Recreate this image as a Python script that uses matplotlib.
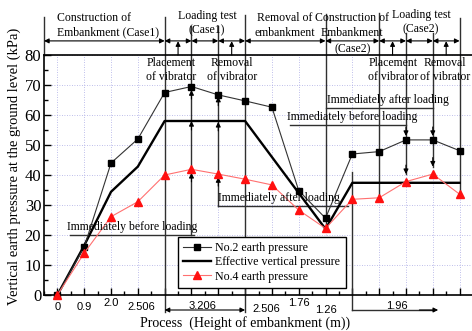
import matplotlib
matplotlib.use("Agg")
import matplotlib.pyplot as plt
from matplotlib.ticker import MultipleLocator

# ---------------- data ----------------
steps = list(range(16))
no2 = [0, 16, 44, 52, 67.5, 69.5, 66.7, 64.7, 62.6, 34.8, 25.6, 47, 47.8, 51.7, 51.7, 48.1]
eff = [0, 16.5, 34.4, 42.8, 58, 58, 58, 58, 46, 34, 22, 37.4, 37.4, 37.4, 37.4, 37.4]
no4 = [0, 14, 26.1, 31.1, 40, 41.9, 40.3, 38.6, 36.7, 28.3, 22.2, 31.9, 32.4, 37.8, 40.3, 33.6]
height_labels = ['0', '0.9', '2.0', '2.506', '3.206', '2.506', '1.76', '1.26', '1.96']
yticks = [0, 10, 20, 30, 40, 50, 60, 70, 80]

SERIF = 'Liberation Serif'
SANS = 'Liberation Sans'
LC = '#303030'
AF = 8.5  # annotation font size

fig = plt.figure(figsize=(4.72, 3.31), dpi=100)
ax = fig.add_axes([44/472, 36/331, 429/472, 240/331])
ax.set_xlim(-0.5, 15.5)
ax.set_ylim(0, 80)

# grid
ax.set_xticks(steps)
ax.xaxis.set_minor_locator(MultipleLocator(0.5))
ax.set_yticks(yticks)
ax.yaxis.set_minor_locator(MultipleLocator(5))
ax.grid(True, which='major', color='#a8a8e4', lw=0.6, ls=(0, (1, 2)))
ax.set_axisbelow(True)
ax.set_xticklabels([])
ax.set_yticklabels([str(v) for v in yticks], fontfamily=SERIF, fontsize=12)
ax.tick_params(axis='both', which='major', direction='in', length=5, width=1, pad=2)
ax.tick_params(axis='both', which='minor', direction='in', length=3, width=1)
for s in ['left', 'bottom', 'top']:
    ax.spines[s].set_linewidth(1.2)
ax.spines['right'].set_visible(False)

# data series
l2, = ax.plot(steps, no2, color='#333333', lw=0.8, marker='s', ms=5, mfc='k', mec='k',
              zorder=4, clip_on=False, label='No.2 earth pressure')
le, = ax.plot(steps, eff, color='k', lw=1.7, zorder=3, clip_on=False,
              label='Effective vertical pressure')
l4, = ax.plot(steps, no4, color='#ff7070', lw=0.8, marker='^', ms=6, mfc='#ff1010', mec='#ff1010',
              zorder=4, clip_on=False, label='No.4 earth pressure')


def vline(x, y0, y1):
    ax.plot([x, x], [y0, y1], color=LC, lw=1.0, clip_on=False, zorder=2)


def hline(x0, x1, y):
    ax.plot([x0, x1], [y, y], color=LC, lw=1.0, clip_on=False, zorder=2)


def arrow(x0, y0, x1, y1, style='-|>'):
    ax.annotate('', xy=(x1, y1), xytext=(x0, y0), annotation_clip=False,
                arrowprops=dict(arrowstyle=style, color='k', lw=0.8, shrinkA=0, shrinkB=0,
                                mutation_scale=7), zorder=3)


def txt(x, y, s, ha='center', va='center', **kw):
    ax.text(x, y, s, ha=ha, va=va, fontfamily=SERIF, fontsize=AF, clip_on=False,
            linespacing=1.25, zorder=5, **kw)


# ------------- top stage bars -------------
YA = 84.7
vline(-0.5, 80, 92.7)
vline(4, -5.7, 92.7)
vline(7, -5.7, 93.3)
vline(5, 20, 89.7)
vline(6, 29.6, 89.7)
vline(10, no4[10], 93.7)
vline(11, -5, 41)
vline(12, no4[12], 94)
vline(13, no4[13] + 2.5, 87.3)
vline(14, no4[14] + 2.5, 87.3)
vline(15, no4[15], 92.3)

for a, b in [(-0.5, 4), (4, 5), (5, 6), (6, 7), (7, 10), (10, 12), (12, 13), (13, 14), (14, 15)]:
    arrow(a, YA, b, YA, '<|-|>')
for xu in [4.5, 6.5, 12.5, 14.5]:
    arrow(xu, 80, xu, YA - 0.1)

txt(0, 89.8, 'Construction of\nEmbankment (Case1)', ha='left', multialignment='left')
txt(5.58, 90.7, 'Loading test\n(Case1)')
txt(8.49, 89.8, 'Removal of\nembankment')
txt(11.0, 89.8, 'Construction of\nEmbankment')
txt(11.0, 82.0, '(Case2)')
txt(13.56, 90.8, 'Loading test\n(Case2)')

txt(4.24, 75, 'Placement\nof vibrator')
txt(6.5, 75, 'Removal\nof vibrator')
txt(12.52, 75, 'Placement\nof vibrator')
txt(14.46, 75, 'Removal\nof vibrator')

# ------------- before/after loading -------------
hline(0.47, 5.1, 20)
txt(2.78, 20.6, 'Immediately before loading', va='bottom')
hline(6, 10.84, 29.6)
txt(8.27, 30.2, 'Immediately after loading', va='bottom')
hline(8.68, 13, 56.8)
txt(11.0, 57.4, 'Immediately before loading', va='bottom')
hline(10, 14, 62.3)
txt(12.33, 62.9, 'Immediately after loading', va='bottom')

# arrow heads pointing to values
for tip in [no2[5] - 1.2, eff[5], no4[5] - 1.2]:
    arrow(5, tip - 3, 5, tip)
for tip in [no2[6] - 0.6, eff[6] - 0.3, no4[6] - 1.0]:
    arrow(6, tip - 3, 6, tip)
for i in [13, 14]:
    for tip in [no2[i] + 1.3, no4[i] + 2.5]:
        arrow(i, tip + 3, i, tip)

# ------------- bottom height labels -------------
lab_pos = [(0, -4), (1, -4), (2, -2.7), (3.12, -4), (5.43, -3.7), (7.78, -4.6),
           (9.0, -2.7), (10.0, -5.0), (12.67, -3.7)]
for s, (x, y) in zip(height_labels, lab_pos):
    ax.text(x, y, s, ha='center', va='center', fontfamily=SANS, fontsize=8, clip_on=False)
arrow(4, -5, 7, -5, '<|-|>')
hline(11, 14.0, -5)
arrow(13.5, -5, 14.2, -5)

fig.text(245/472, 1 - 323/331, 'Process  (Height of embankment (m))', ha='center', va='center',
         fontfamily=SERIF, fontsize=10)
fig.text(14/472, 1 - 166/331, 'Vertical earth pressure at the ground level (kPa)', ha='center',
         va='center', rotation=90, fontfamily=SERIF, fontsize=10.5)

leg = ax.legend(handles=[l2, le, l4], loc='lower left', bbox_to_anchor=(0.312, 0.029),
                prop={'family': SERIF, 'size': 8.6}, frameon=True, fancybox=False,
                edgecolor='k', framealpha=1, handlelength=2.3, handletextpad=0.4,
                borderpad=0.45, labelspacing=0.2, borderaxespad=0)
leg.get_frame().set_linewidth(1.0)
leg.set_zorder(10)

fig.savefig('out.png', dpi=100)
